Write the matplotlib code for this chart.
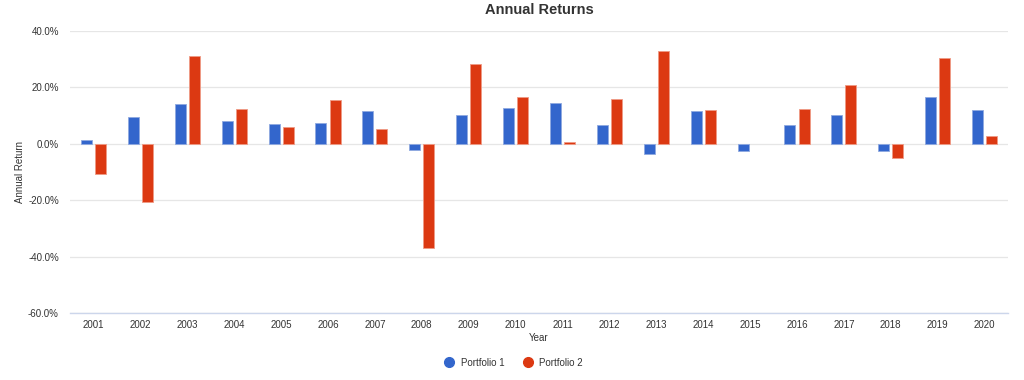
#!/usr/bin/env python3
"""Annual returns bar chart for two portfolios."""

import matplotlib

matplotlib.use("Agg")
import matplotlib.pyplot as plt
import numpy as np
from matplotlib.lines import Line2D
from matplotlib.ticker import FuncFormatter

plt.rcParams["font.family"] = ["Liberation Sans", "DejaVu Sans"]

years = [str(y) for y in range(2001, 2021)]
portfolio_1 = [1.5, 9.6, 14.0, 8.2, 7.1, 7.4, 11.8, -2.3, 10.3, 12.7,
               14.3, 6.8, -3.7, 11.8, -2.7, 6.6, 10.3, -2.5, 16.7, 12.1]
portfolio_2 = [-10.8, -20.8, 31.1, 12.4, 5.8, 15.4, 5.3, -36.8, 28.4, 16.7,
               0.8, 15.9, 33.0, 12.1, 0.0, 12.4, 20.9, -5.0, 30.3, 2.9]
series_names = ["Portfolio 1", "Portfolio 2"]
y_ticks = [-60, -40, -20, 0, 20, 40]

BLUE = "#3366cc"
RED = "#dc3912"
TEXT = "#333333"


def main() -> None:
    fig = plt.figure(figsize=(10.24, 3.8), dpi=100)
    ax = fig.add_axes([0.0684, 0.1763, 0.9160, 0.7421])

    x = np.arange(len(years))
    width = 0.235
    offset = 0.15
    # zero-height bars get no outline so they stay invisible
    lw_1 = [0.6 if v != 0 else 0 for v in portfolio_1]
    lw_2 = [0.6 if v != 0 else 0 for v in portfolio_2]
    ax.bar(x - offset, portfolio_1, width=width, color=BLUE,
           edgecolor="#8fa9e0", linewidth=lw_1, zorder=3)
    ax.bar(x + offset, portfolio_2, width=width, color=RED,
           edgecolor="#ef9a85", linewidth=lw_2, zorder=3)

    ax.set_xlim(-0.5, len(years) - 0.5)
    ax.set_ylim(-60, 40)
    ax.set_yticks(y_ticks)
    ax.yaxis.set_major_formatter(FuncFormatter(lambda v, _: f"{v:.1f}%"))
    ax.set_xticks(x)
    ax.set_xticklabels(years)

    ax.grid(axis="y", color="#e6e6e6", linewidth=0.9, zorder=0)
    ax.set_axisbelow(True)
    for side in ("top", "right", "left"):
        ax.spines[side].set_visible(False)
    ax.spines["bottom"].set_color("#ccd6eb")
    ax.spines["bottom"].set_linewidth(1.0)
    ax.tick_params(axis="both", length=0, labelsize=7, colors=TEXT)
    ax.tick_params(axis="x", pad=5)
    ax.tick_params(axis="y", pad=8)

    ax.set_title("Annual Returns", fontsize=10.5, fontweight="bold",
                 color=TEXT, pad=12)
    ax.set_ylabel("Annual Return", fontsize=7, color=TEXT, labelpad=2)
    ax.set_xlabel("Year", fontsize=7, color=TEXT, labelpad=2)

    handles = [
        Line2D([], [], marker="o", linestyle="none", markersize=7,
               markerfacecolor=color, markeredgecolor=color)
        for color in (BLUE, RED)
    ]
    fig.legend(handles, series_names, loc="center", ncol=2,
               bbox_to_anchor=(0.499, 0.045), frameon=False, fontsize=7,
               labelcolor=TEXT, handletextpad=0.2, columnspacing=1.4)

    fig.savefig("out.png", dpi=100)
    plt.close(fig)


if __name__ == "__main__":
    main()
